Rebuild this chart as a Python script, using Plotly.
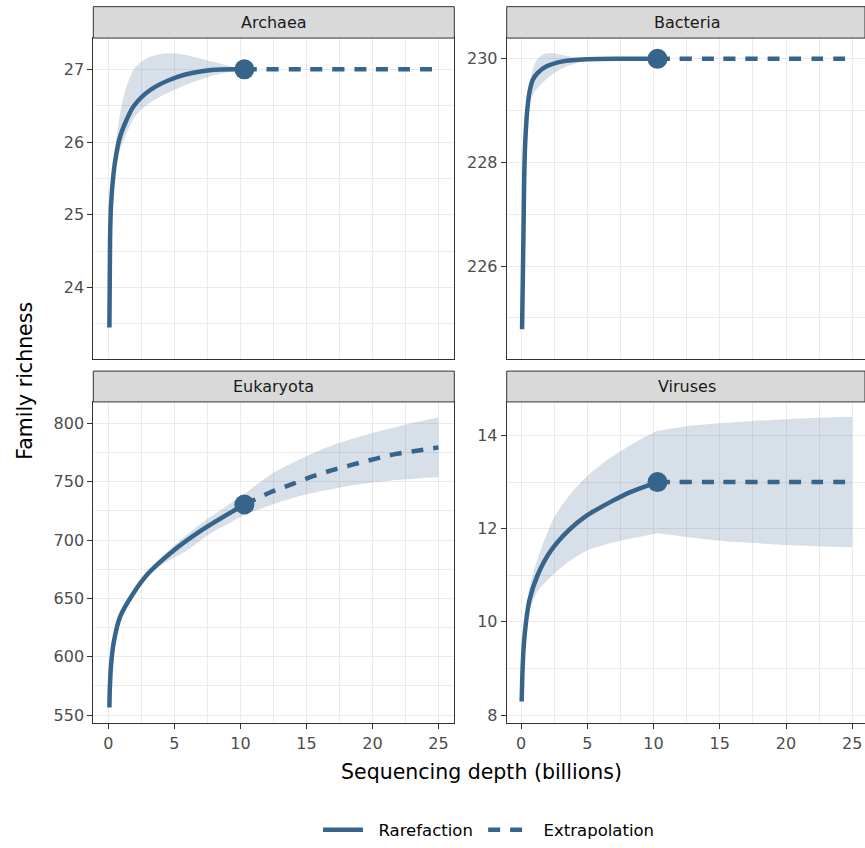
import plotly.graph_objects as go

# ---------------- data ----------------
taxa = ["Archaea", "Bacteria", "Eukaryota", "Viruses"]
legend_names = ["Rarefaction", "Extrapolation"]
observed_depth = 10.3
observed_richness = [27, 230, 730.5, 13]

# Archaea
arch_rare_x = [0.08, 0.13, 0.2, 0.4, 0.58, 0.83, 1.27, 1.9, 3.2, 5.3, 7.8, 10.3]
arch_rare_y = [23.45, 24.67, 25.13, 25.58, 25.81, 26.04, 26.26, 26.49, 26.72, 26.9, 26.99, 27.0]
arch_ext_x = [10.3, 15, 20, 25]
arch_ext_y = [27.0, 27.0, 27.0, 27.0]
arch_band_rare_x = [0.08, 0.2, 0.5, 0.8, 1.3, 2.0, 3.0, 4.0, 5.0, 6.5, 8.0, 9.3, 10.3]
arch_band_rare_hi = [23.45, 25.15, 25.85, 26.3, 26.72, 27.02, 27.16, 27.21, 27.22, 27.17, 27.1, 27.04, 27.0]
arch_band_rare_lo = [23.45, 25.1, 25.6, 25.85, 26.08, 26.35, 26.52, 26.63, 26.72, 26.83, 26.92, 26.97, 27.0]
arch_band_ext_x = [10.3, 25]
arch_band_ext_hi = [27.0, 27.0]
arch_band_ext_lo = [27.0, 27.0]

# Bacteria
bact_rare_x = [0.08, 0.18, 0.25, 0.33, 0.5, 0.68, 0.9, 1.26, 1.9, 3.15, 5.0, 7.5, 10.3]
bact_rare_y = [224.78, 226.53, 227.81, 228.45, 229.09, 229.41, 229.6, 229.73, 229.85, 229.95, 229.99, 230.0, 230.0]
bact_ext_x = [10.3, 15, 20, 25]
bact_ext_y = [230.0, 230.0, 230.0, 230.0]
bact_band_rare_x = [0.08, 0.25, 0.5, 0.8, 1.2, 1.6, 2.1, 3.0, 4.0, 5.0, 7.0, 10.3]
bact_band_rare_hi = [224.78, 227.9, 229.2, 229.7, 229.98, 230.08, 230.11, 230.08, 230.03, 230.01, 230.0, 230.0]
bact_band_rare_lo = [224.78, 227.7, 228.95, 229.25, 229.42, 229.53, 229.65, 229.8, 229.9, 229.96, 229.99, 230.0]
bact_band_ext_x = [10.3, 25]
bact_band_ext_hi = [230.0, 230.0]
bact_band_ext_lo = [230.0, 230.0]

# Eukaryota
euk_rare_x = [0.08, 0.11, 0.2, 0.4, 0.9, 1.9, 3.03, 4.67, 7.07, 10.3]
euk_rare_y = [556.4, 572, 592, 611.8, 634.6, 654.5, 671.5, 688.6, 708.5, 730.5]
euk_ext_x = [10.3, 12.25, 13.77, 15.4, 16.9, 18.56, 20.2, 21.85, 23.5, 25]
euk_ext_y = [730.5, 740.8, 747.3, 754.4, 759.8, 764.9, 769.7, 774.0, 776.8, 779.5]
euk_band_rare_x = [0.08, 1.0, 2.0, 3.0, 4.0, 5.0, 6.0, 7.5, 9.0, 10.3]
euk_band_rare_hi = [556.4, 637, 657, 673, 685, 695.5, 705, 718, 729.5, 739.5]
euk_band_rare_lo = [556.4, 636, 655, 669.5, 678.5, 685, 691.5, 704, 713.5, 721.5]
euk_band_ext_x = [10.3, 12.5, 15, 17.5, 20, 22.5, 25]
euk_band_ext_hi = [739.5, 757.8, 772, 783.4, 791.9, 799, 805.3]
euk_band_ext_lo = [721.5, 730.8, 739.3, 745, 749.3, 752.1, 754.1]

# Viruses
vir_rare_x = [0.05, 0.12, 0.2, 0.38, 0.63, 1.25, 2.26, 3.65, 4.9, 6.8, 8.3, 10.3]
vir_rare_y = [8.29, 9.0, 9.46, 10.0, 10.46, 11.0, 11.53, 11.98, 12.27, 12.58, 12.79, 13.0]
vir_ext_x = [10.3, 15, 20, 25]
vir_ext_y = [13.0, 13.0, 13.0, 13.0]
vir_band_rare_x = [0.05, 0.3, 0.63, 1.25, 2.5, 3.75, 5.0, 6.25, 7.5, 8.9, 10.3]
vir_band_rare_hi = [8.29, 9.9, 10.72, 11.35, 12.24, 12.75, 13.13, 13.42, 13.66, 13.9, 14.1]
vir_band_rare_lo = [8.29, 9.62, 10.2, 10.65, 11.03, 11.32, 11.53, 11.65, 11.74, 11.82, 11.9]
vir_band_ext_x = [10.3, 12.5, 15, 17.5, 20, 22.5, 25]
vir_band_ext_hi = [14.1, 14.2, 14.26, 14.31, 14.35, 14.38, 14.4]
vir_band_ext_lo = [11.9, 11.82, 11.74, 11.69, 11.65, 11.62, 11.6]

x_tick_step = 5
y_tick_steps = [1, 2, 50, 2]

# ---------------- styling ----------------
LINE = "#36648B"
BAND = "rgba(54,100,139,0.2)"
FONT = "DejaVu Sans"
GRID = "#EBEBEB"
BORDER = "#333333"
NB = "\u00a0"

W, H = 865, 848
def px(x):
    return x / W
def py(y):
    return (H - y) / H

panels = [
    dict(name=taxa[0], rx=arch_rare_x, ry=arch_rare_y, ex=arch_ext_x, ey=arch_ext_y,
         brx=arch_band_rare_x, brh=arch_band_rare_hi, brl=arch_band_rare_lo,
         bex=arch_band_ext_x, beh=arch_band_ext_hi, bel=arch_band_ext_lo,
         xdom=[px(93.3), px(454.3)], ydom=[py(361), py(38.3)], strip=[6.7, 38.3],
         xr=[-1.14, 26.2], yr=[23.02, 27.43], bottom=False),
    dict(name=taxa[1], rx=bact_rare_x, ry=bact_rare_y, ex=bact_ext_x, ey=bact_ext_y,
         brx=bact_band_rare_x, brh=bact_band_rare_hi, brl=bact_band_rare_lo,
         bex=bact_band_ext_x, beh=bact_band_ext_hi, bel=bact_band_ext_lo,
         xdom=[px(506.7), 1.0], ydom=[py(361), py(38.3)], strip=[6.7, 38.3],
         xr=[-1.08, 25.96], yr=[224.21, 230.40], bottom=False),
    dict(name=taxa[2], rx=euk_rare_x, ry=euk_rare_y, ex=euk_ext_x, ey=euk_ext_y,
         brx=euk_band_rare_x, brh=euk_band_rare_hi, brl=euk_band_rare_lo,
         bex=euk_band_ext_x, beh=euk_band_ext_hi, bel=euk_band_ext_lo,
         xdom=[px(93.3), px(454.3)], ydom=[py(727.7), py(404.3)], strip=[373.3, 404.3],
         xr=[-1.14, 26.2], yr=[542.8, 818.5], bottom=True),
    dict(name=taxa[3], rx=vir_rare_x, ry=vir_rare_y, ex=vir_ext_x, ey=vir_ext_y,
         brx=vir_band_rare_x, brh=vir_band_rare_hi, brl=vir_band_rare_lo,
         bex=vir_band_ext_x, beh=vir_band_ext_hi, bel=vir_band_ext_lo,
         xdom=[px(506.7), 1.0], ydom=[py(727.7), py(404.3)], strip=[373.3, 404.3],
         xr=[-1.08, 25.96], yr=[7.82, 14.72], bottom=True),
]

fig = go.Figure()
shapes = []
annotations = []
layout_axes = {}

for i, p in enumerate(panels):
    n = i + 1
    xa = "x" if n == 1 else f"x{n}"
    ya = "y" if n == 1 else f"y{n}"
    # confidence bands (rarefaction part, extrapolation part)
    for bx, bl, bh in [(p["brx"], p["brl"], p["brh"]), (p["bex"], p["bel"], p["beh"])]:
        fig.add_trace(go.Scatter(x=bx, y=bl, xaxis=xa, yaxis=ya, mode="lines",
                                 line=dict(width=0, color=BAND, shape="spline", smoothing=0.8),
                                 hoverinfo="skip", showlegend=False))
        fig.add_trace(go.Scatter(x=bx, y=bh, xaxis=xa, yaxis=ya, mode="lines",
                                 line=dict(width=0, color=BAND, shape="spline", smoothing=0.8),
                                 fill="tonexty", fillcolor=BAND,
                                 hoverinfo="skip", showlegend=False))
    fig.add_trace(go.Scatter(x=p["rx"], y=p["ry"], xaxis=xa, yaxis=ya, mode="lines",
                             line=dict(color=LINE, width=4.5, shape="spline", smoothing=0.8),
                             name=NB * 2 + legend_names[0] + NB, legendgroup="rare", showlegend=(n == 1)))
    fig.add_trace(go.Scatter(x=p["ex"], y=p["ey"], xaxis=xa, yaxis=ya, mode="lines",
                             line=dict(color=LINE, width=4.5, dash="12px,10px", shape="spline", smoothing=0.8),
                             name=NB * 2 + legend_names[1], legendgroup="ext", showlegend=(n == 1)))
    fig.add_trace(go.Scatter(x=[observed_depth], y=[observed_richness[i]], xaxis=xa, yaxis=ya,
                             mode="markers", marker=dict(color=LINE, size=20),
                             showlegend=False, hoverinfo="skip"))

    xkey = "xaxis" if n == 1 else f"xaxis{n}"
    ykey = "yaxis" if n == 1 else f"yaxis{n}"
    layout_axes[xkey] = dict(
        domain=p["xdom"], anchor=ya, range=p["xr"], tickmode="linear", tick0=0, dtick=x_tick_step,
        showgrid=True, gridcolor=GRID, gridwidth=1.2, zeroline=False,
        showline=True, mirror=True, linecolor=BORDER, linewidth=1,
        ticks="outside" if p["bottom"] else "", ticklen=5, tickcolor=BORDER,
        showticklabels=p["bottom"], tickfont=dict(family=FONT, size=16, color="#4D4D4D"),
        minor=dict(tickmode="linear", tick0=0, dtick=x_tick_step / 2, showgrid=True,
                   gridcolor=GRID, gridwidth=0.6, ticks=""),
    )
    ys = y_tick_steps[i]
    layout_axes[ykey] = dict(
        domain=p["ydom"], anchor=xa, range=p["yr"], tickmode="linear", tick0=0, dtick=ys,
        showgrid=True, gridcolor=GRID, gridwidth=1.2, zeroline=False,
        showline=True, mirror=True, linecolor=BORDER, linewidth=1,
        ticks="outside", ticklen=5, tickcolor=BORDER,
        tickfont=dict(family=FONT, size=16, color="#4D4D4D"),
        minor=dict(tickmode="linear", tick0=0, dtick=ys / 2, showgrid=True,
                   gridcolor=GRID, gridwidth=0.6, ticks=""),
    )
    # facet strip
    s0, s1 = p["strip"]
    shapes.append(dict(type="rect", xref="paper", yref="paper",
                       x0=p["xdom"][0], x1=p["xdom"][1], y0=py(s1), y1=py(s0),
                       fillcolor="#D9D9D9", line=dict(color=BORDER, width=1)))
    annotations.append(dict(text=p["name"], xref="paper", yref="paper",
                            x=(p["xdom"][0] + p["xdom"][1]) / 2 if n in (1, 3) else (px(506.7) + px(868)) / 2,
                            y=py((s0 + s1) / 2), xanchor="center", yanchor="middle", showarrow=False,
                            font=dict(family=FONT, size=16, color="#1A1A1A")))

annotations.append(dict(text="Sequencing depth (billions)", xref="paper", yref="paper",
                        x=px(481), y=py(777), xanchor="center", yanchor="middle", showarrow=False,
                        font=dict(family=FONT, size=20.5, color="#000000")))
annotations.append(dict(text="Family richness", xref="paper", yref="paper",
                        x=px(25), y=py(383), xanchor="center", yanchor="middle", showarrow=False,
                        textangle=-90, font=dict(family=FONT, size=20.5, color="#000000")))

fig.update_layout(
    width=W, height=H, margin=dict(l=0, r=0, t=0, b=0),
    paper_bgcolor="white", plot_bgcolor="white",
    font=dict(family=FONT),
    shapes=shapes, annotations=annotations,
    showlegend=True,
    legend=dict(orientation="h", x=px(489), xanchor="center", y=py(835), yanchor="middle",
                font=dict(family=FONT, size=16.5, color="#000000"), bgcolor="rgba(0,0,0,0)",
                itemwidth=40),
    **layout_axes,
)

fig.write_html("out.html")
